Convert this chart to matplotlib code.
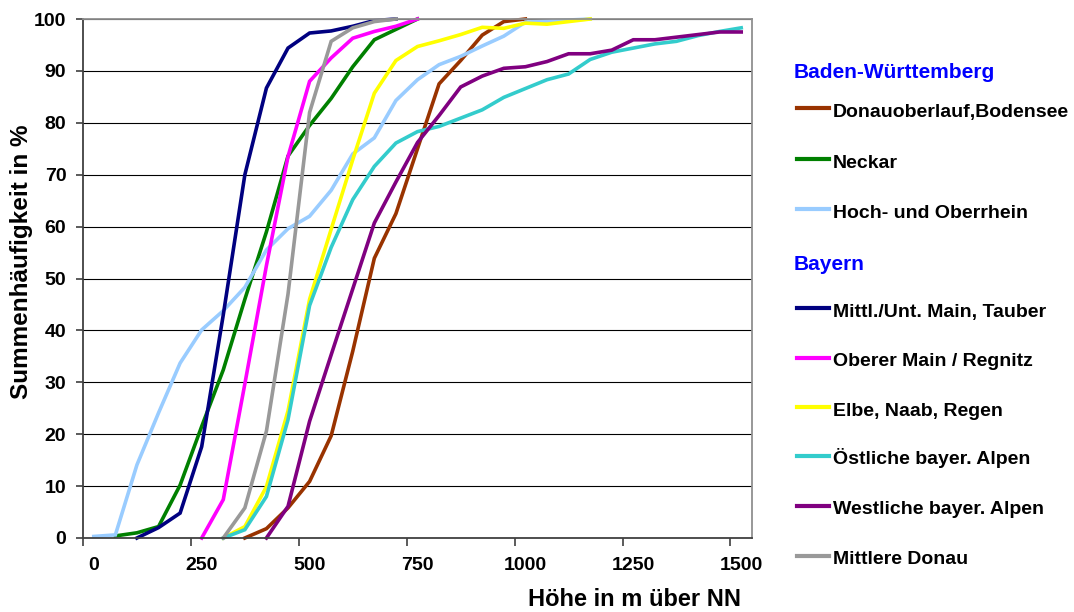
import numpy as np
import matplotlib.pyplot as plt
from matplotlib.lines import Line2D

plt.rcParams['font.family'] = ['Liberation Sans', 'DejaVu Sans']
plt.rcParams['font.weight'] = 'bold'

# Hoehenstufen 0 ... 1500 m (Kategorien, 50-m-Schritte)
hoehe = [0, 50, 100, 150, 200, 250, 300, 350, 400, 450, 500, 550, 600, 650, 700, 750,
         800, 850, 900, 950, 1000, 1050, 1100, 1150, 1200, 1250, 1300, 1350, 1400, 1450, 1500]
x_labels = ['0', '250', '500', '750', '1000', '1250', '1500']

# Summenhaeufigkeit in % je Hoehenstufe (None = keine Flaeche in dieser Stufe)
donau_bodensee = [None] * 7 + [0, 1.8, 5.8, 10.9, 19.7, 36.0, 53.9, 62.5, 75.0, 87.5, 92.0,
                               96.9, 99.5, 100] + [None] * 10
neckar = [None, 0.4, 1.0, 2.2, 10.2, 21.5, 32.4, 46.0, 59.0, 73.6, 79.5, 84.7, 90.8, 96.0,
          98.0, 100] + [None] * 15
oberrhein = [0.3, 0.6, 14.1, 24.1, 33.7, 40.1, 43.8, 48.3, 55.5, 59.6, 62.0, 67.0, 74.0,
             77.1, 84.3, 88.3, 91.2, 92.8, 94.8, 96.7, 99.4, 99.6, 99.8, 100] + [None] * 7
main_tauber = [None, None, 0, 2.0, 4.8, 17.6, 43.0, 70.0, 86.7, 94.4, 97.3, 97.7, 98.6,
               99.7, 100] + [None] * 16
main_regnitz = [None] * 5 + [0, 7.4, 29.7, 52.5, 73.5, 88.0, 92.5, 96.3, 97.6, 98.6,
                             100] + [None] * 15
elbe_naab = [None] * 6 + [0, 2.2, 9.9, 24.5, 46.0, 59.5, 72.9, 85.7, 92.0, 94.7, 95.8, 97.0,
                          98.4, 98.2, 99.2, 99.0, 99.5, 100] + [None] * 7
alpen_ost = [None] * 6 + [0, 1.6, 8.0, 22.8, 44.8, 56.0, 65.2, 71.6, 76.1, 78.3, 79.3, 80.9,
                          82.5, 84.9, 86.6, 88.3, 89.4, 92.2, 93.6, 94.4, 95.2, 95.7, 96.8,
                          97.6, 98.3]
alpen_west = [None] * 8 + [0, 6.1, 22.5, 35.3, 48.0, 60.7, 68.6, 76.2, 81.4, 86.9, 89.0,
                           90.5, 90.8, 91.8, 93.3, 93.3, 94.0, 96.0, 96.0, 96.5, 97.0, 97.5,
                           97.5]
mittlere_donau = [None] * 6 + [0, 5.8, 20.6, 47.0, 82.0, 95.7, 98.3, 99.5, 100] + [None] * 16

bw = [('Donauoberlauf,Bodensee', donau_bodensee, '#993300'),
      ('Neckar', neckar, '#008000'),
      ('Hoch- und Oberrhein', oberrhein, '#99CCFF')]
by = [('Mittl./Unt. Main, Tauber', main_tauber, '#000080'),
      ('Oberer Main / Regnitz', main_regnitz, '#FF00FF'),
      ('Elbe, Naab, Regen', elbe_naab, '#FFFF00'),
      ('Östliche bayer. Alpen', alpen_ost, '#33CCCC'),
      ('Westliche bayer. Alpen', alpen_west, '#800080'),
      ('Mittlere Donau', mittlere_donau, '#999999')]

W, H = 1074, 612
fig = plt.figure(figsize=(W / 100, H / 100), dpi=100)
ax = fig.add_axes([83 / W, 1 - 538 / H, (752 - 83) / W, (538 - 19) / H])

x = np.arange(len(hoehe))
for name, vals, col in bw + by:
    ax.plot(x, np.array(vals, dtype=float), color=col, lw=2.6, clip_on=False,
            solid_joinstyle='miter')

ax.set_xlim(-0.5, len(hoehe) - 0.5)
ax.set_ylim(0, 100)
ax.set_xticks(x[::5])
ax.set_xticklabels(x_labels)
ax.set_xticks(np.arange(-0.5, len(hoehe) - 1, 5), minor=True)
ax.tick_params(axis='x', which='major', length=0, pad=14, labelsize=14)
ax.tick_params(axis='x', which='minor', length=6, width=1.2, color='#404040')
ax.set_yticks(np.arange(0, 101, 10))
ax.tick_params(axis='y', length=5, width=1.2, color='#404040', pad=7, labelsize=14)

ax.yaxis.grid(True, color='black', lw=0.8)
ax.set_axisbelow(True)
for s in ['left', 'bottom']:
    ax.spines[s].set_color('#404040')
    ax.spines[s].set_linewidth(1.3)
for s in ['top', 'right']:
    ax.spines[s].set_color('#909090')
    ax.spines[s].set_linewidth(1.3)

fig.text(22 / W, 1 - 262 / H, 'Summenhäufigkeit in %', rotation=90, ha='center',
         va='center', fontsize=17.5)
fig.text(635 / W, 1 - 599 / H, 'Höhe in m über NN', ha='center', va='center', fontsize=17)

# Legende mit Gruppenueberschriften
def legend_item(name, col, ypx):
    fig.add_artist(Line2D([797 / W, 829 / W], [1 - ypx / H] * 2, color=col, lw=3,
                          transform=fig.transFigure))
    fig.text(833 / W, 1 - (ypx + 8.5) / H, name, ha='left', va='baseline', fontsize=14)

fig.text(794 / W, 1 - 73 / H, 'Baden-Württemberg', color='#0000FF', ha='left',
         va='center', fontsize=15)
for (name, vals, col), ypx in zip(bw, [108, 159, 209]):
    legend_item(name, col, ypx)
fig.text(794 / W, 1 - 265 / H, 'Bayern', color='#0000FF', ha='left', va='center',
         fontsize=15)
for (name, vals, col), ypx in zip(by, [308, 358, 407, 456, 506, 556]):
    legend_item(name, col, ypx)

fig.savefig('out.png', dpi=100)
